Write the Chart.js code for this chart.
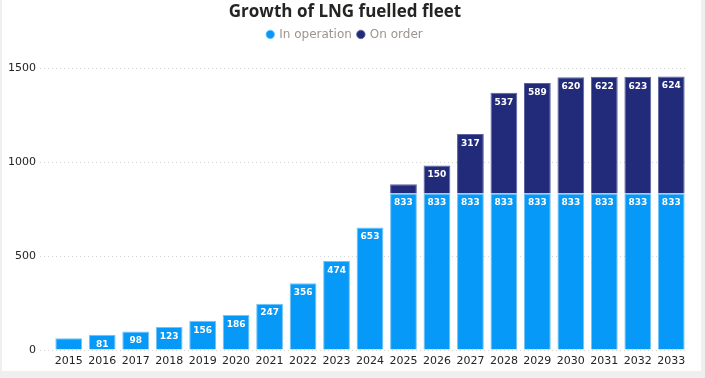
<!DOCTYPE html>
<html>
<head>
<meta charset="utf-8">
<script src="https://cdn.jsdelivr.net/npm/chart.js@4.4.1/dist/chart.umd.min.js"></script>
<style>
  html, body { margin: 0; padding: 0; background: #efefef; width: 705px; height: 378px; overflow: hidden; }
  #panel { position: absolute; left: 2px; top: 0; width: 699px; height: 371px; background: #ffffff; }
  canvas { display: block; }
</style>
</head>
<body>
<div id="panel"><canvas id="c" width="699" height="371"></canvas></div>
<script>
const years = ['2015','2016','2017','2018','2019','2020','2021','2022','2023','2024','2025','2026','2027','2028','2029','2030','2031','2032','2033'];
const inOperation = [63, 81, 98, 123, 156, 186, 247, 356, 474, 653, 833, 833, 833, 833, 833, 833, 833, 833, 833];
const onOrder = [null, null, null, null, null, null, null, null, null, null, 50, 150, 317, 537, 589, 620, 622, 623, 624];
const yTicks = [0, 500, 1000, 1500];

const valueLabels = {
  id: 'valueLabels',
  afterDatasetsDraw(chart) {
    const ctx = chart.ctx;
    ctx.save();
    ctx.font = 'bold 9px "DejaVu Sans"';
    ctx.fillStyle = '#ffffff';
    ctx.textAlign = 'center';
    ctx.textBaseline = 'middle';
    chart.data.datasets.forEach((ds, di) => {
      const meta = chart.getDatasetMeta(di);
      meta.data.forEach((bar, i) => {
        const v = ds.data[i];
        if (v == null) return;
        const h = Math.abs(bar.base - bar.y);
        if (h < 13) return;
        ctx.fillText(String(v), bar.x, bar.y + 9.5);
      });
    });
    ctx.restore();
  }
};

const legendMargin = {
  id: 'legendMargin',
  beforeInit(chart) {
    const origFit = chart.legend.fit;
    chart.legend.fit = function () {
      origFit.call(this);
      this.height += 18;
    };
  }
};

new Chart(document.getElementById('c'), {
  type: 'bar',
  data: {
    labels: years,
    datasets: [
      {
        label: 'In operation',
        data: inOperation,
        backgroundColor: '#0799f7',
        borderColor: '#74c3f6',
        borderWidth: { left: 1, right: 1, top: 1, bottom: 0 },
        borderSkipped: 'bottom',
        barPercentage: 0.8,
        categoryPercentage: 1.0
      },
      {
        label: 'On order',
        data: onOrder,
        backgroundColor: '#222a7a',
        borderColor: '#5e63a0',
        borderWidth: { left: 1, right: 1, top: 1, bottom: 0 },
        borderSkipped: 'bottom',
        barPercentage: 0.8,
        categoryPercentage: 1.0
      }
    ]
  },
  options: {
    responsive: false,
    animation: false,
    layout: { padding: { left: 0, right: 13, top: 2, bottom: 4 } },
    plugins: {
      title: {
        display: true,
        text: 'Growth of LNG fuelled fleet',
        color: '#252423',
        font: { family: '"Open Sans", "DejaVu Sans", sans-serif', size: 17, weight: 'bold' },
        padding: { top: 0, bottom: 0 }
      },
      legend: {
        display: true,
        position: 'top',
        labels: {
          usePointStyle: true,
          pointStyle: 'circle',
          boxWidth: 6,
          boxHeight: 6,
          padding: 6,
          color: '#9c958f',
          font: { family: '"DejaVu Sans", sans-serif', size: 12 }
        }
      },
      tooltip: { enabled: false }
    },
    scales: {
      x: {
        stacked: true,
        afterFit(scale) { scale.height = 17; },
        grid: { display: false, drawTicks: false },
        border: { display: false },
        ticks: {
          color: '#252423',
          font: { family: '"DejaVu Sans", sans-serif', size: 11 },
          padding: 5,
          maxRotation: 0,
          autoSkip: false
        }
      },
      y: {
        stacked: true,
        min: 0,
        max: 1500,
        afterFit(scale) { scale.width = 50; },
        afterBuildTicks(scale) { scale.ticks = yTicks.map(v => ({ value: v })); },
        border: { display: false, dash: [1, 3] },
        grid: {
          color: '#d4d4d4',
          lineWidth: 1,
          drawTicks: true,
          tickLength: 12,
          tickColor: '#d4d4d4',
          tickBorderDash: [1, 3]
        },
        ticks: {
          color: '#252423',
          font: { family: '"DejaVu Sans", sans-serif', size: 11 },
          padding: 4,
          callback: (v) => String(v)
        }
      }
    }
  },
  plugins: [valueLabels, legendMargin]
});
</script>
</body>
</html>
